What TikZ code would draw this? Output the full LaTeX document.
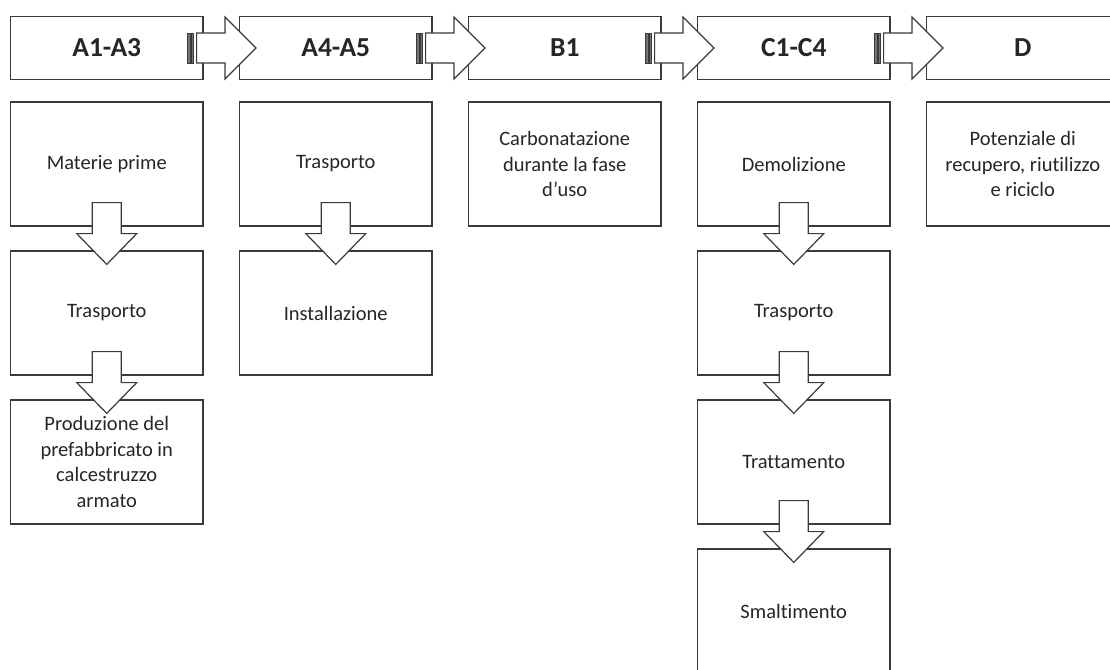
\documentclass[tikz,border=0pt]{standalone}
\usepackage{fontspec}
\setmainfont{Carlito}[Ligatures={NoCommon}]
\usetikzlibrary{positioning,calc}

\definecolor{edge}{HTML}{3A3A3A}
\definecolor{ink}{HTML}{262626}

% block arrow between two headers, with stripes at its tail
\newcommand{\blockright}[2]{%
	\filldraw[stripe] ($(#1.east)+(-16,-15)$) rectangle ($(#1.east)+(-13.5,15)$);
	\filldraw[stripe] ($(#1.east)+(-12.5,-15)$) rectangle ($(#1.east)+(-10,15)$);
	\filldraw[block] ($(#1.east)+(-7,-15)$) -- ($(#2.west)+(-14,-15)$) -- ($(#2.west)+(-14,-31)$)
		-- ($(#2.west)+(17,0)$) -- ($(#2.west)+(-14,31)$) -- ($(#2.west)+(-14,15)$)
		-- ($(#1.east)+(-7,15)$) -- cycle;
}
% block arrow from one box down to the next
\newcommand{\blockdown}[2]{%
	\filldraw[block] ($(#1.south)+(-14.5,-24)$) -- ($(#1.south)+(14.5,-24)$) -- ($(#1.south)+(14.5,7)$)
		-- ($(#1.south)+(30,7)$) -- ($(#2.north)+(0,14)$) -- ($(#1.south)+(-30,7)$)
		-- ($(#1.south)+(-14.5,7)$) -- cycle;
}

\begin{document}
\begin{tikzpicture}[x=1pt, y=-1pt, node distance=24pt,
	header/.style={draw=edge, line width=1.2pt, fill=white, text=ink, minimum width=192.5pt, minimum height=63pt, inner sep=0pt, font=\fontsize{27.5}{30}\selectfont\bfseries},
	box/.style={draw=edge, line width=1.2pt, fill=white, text=ink, minimum width=192.5pt, minimum height=124pt, inner sep=0pt, align=center, font=\fontsize{20.5}{25.5}\selectfont},
	block/.style={draw=edge, line width=1.2pt, fill=white, line join=miter},
	stripe/.style={draw=edge, line width=0.8pt, fill=edge!70}]
	\clip (0,0) rectangle (1110,669);
	\fill[white] (0,0) rectangle (1110,669);

	% Headers {A1-A3, A4-A5, B1, C1-C4, D}
	\node [header] (a13) at (106.75,48) {A1-A3};
	\node [header] (a45) [right=35.3pt of a13] {A4-A5};
	\node [header] (b1)  [right=35.3pt of a45] {B1};
	\node [header] (c14) [right=35.3pt of b1]  {C1-C4};
	\node [header] (d)   [right=35.3pt of c14] {D};

	% Boxes below each header
	\node [box] (mat)  [below=21.3pt of a13] {Materie prime};
	\node [box] (tra1) [below of=mat, yshift=-125pt] {Trasporto};
	\node [box] (prod) [below of=tra1, yshift=-125pt] {Produzione del\\prefabbricato in\\calcestruzzo\\armato};

	\node [box] (tra2) [below=21.3pt of a45] {Trasporto};
	\node [box] (inst) [below of=tra2, yshift=-125pt] {Installazione};

	\node [box] (carb) [below=21.3pt of b1] {Carbonatazione\\durante la fase\\d’uso};

	\node [box] (dem)  [below=21.3pt of c14] {Demolizione};
	\node [box] (tra3) [below of=dem, yshift=-125pt]  {Trasporto};
	\node [box] (trat) [below of=tra3, yshift=-125pt] {Trattamento};
	\node [box] (smal) [below of=trat, yshift=-125pt] {Smaltimento};

	\node [box] (pot)  [below=21.3pt of d] {Potenziale di\\recupero, riutilizzo\\e riciclo};

	% Arrows between headers
	\blockright{a13}{a45}
	\blockright{a45}{b1}
	\blockright{b1}{c14}
	\blockright{c14}{d}

	% Arrows down the columns
	\blockdown{mat}{tra1}
	\blockdown{tra1}{prod}
	\blockdown{tra2}{inst}
	\blockdown{dem}{tra3}
	\blockdown{tra3}{trat}
	\blockdown{trat}{smal}
\end{tikzpicture}
\end{document}
